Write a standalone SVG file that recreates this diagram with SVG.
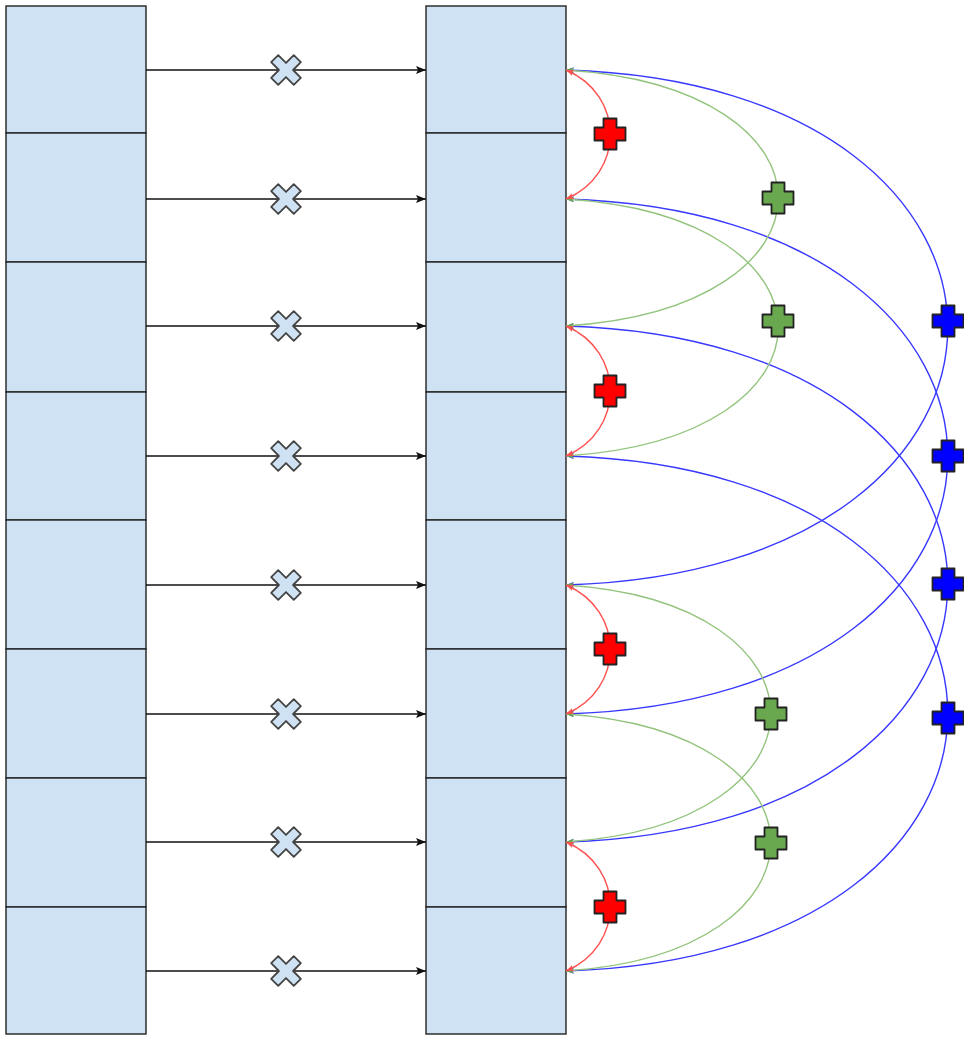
<svg xmlns="http://www.w3.org/2000/svg" xmlns:xlink="http://www.w3.org/1999/xlink" width="964" height="1038" viewBox="0 0 964 1038">
  <style>
    .cell { fill: #cfe2f3; stroke: #222; stroke-width: 1.4; }
    .link { fill: none; stroke: #111; stroke-width: 1.3; }
    .arc { fill: none; stroke-width: 1.4; }
    .arc-red { stroke: #ff5050; }
    .arc-green { stroke: #93c47d; }
    .arc-blue { stroke: #3838ff; }
    .mark { stroke: #222; stroke-width: 1.8; stroke-linejoin: round; }
    .times { fill: #cfe2f3; stroke: #444; }
    .plus-red { fill: #ff0000; }
    .plus-green { fill: #6aa84f; }
    .plus-blue { fill: #0000ff; }
  </style>
  <defs>
    <marker id="arrow" viewBox="0 0 10 8" markerWidth="10" markerHeight="8" refX="10" refY="4" orient="auto" markerUnits="userSpaceOnUse">
      <path d="M0,0 L10,4 L0,8 L2,4 Z" fill="#111"/>
    </marker>
    <marker id="tip-red" viewBox="0 0 8 6" markerWidth="8" markerHeight="6" refX="8" refY="3" orient="auto-start-reverse" markerUnits="userSpaceOnUse">
      <path d="M0,0 L8,3 L0,6 L2,3 Z" fill="#ff5050"/>
    </marker>
    <marker id="tip-green" viewBox="0 0 8 6" markerWidth="8" markerHeight="6" refX="8" refY="3" orient="auto-start-reverse" markerUnits="userSpaceOnUse">
      <path d="M0,0 L8,3 L0,6 L2,3 Z" fill="#6aa84f"/>
    </marker>
    <marker id="tip-blue" viewBox="0 0 8 6" markerWidth="8" markerHeight="6" refX="8" refY="3" orient="auto-start-reverse" markerUnits="userSpaceOnUse">
      <path d="M0,0 L8,3 L0,6 L2,3 Z" fill="#3838ff"/>
    </marker>
    <!-- plus sign centred on the origin -->
    <path id="plus" d="M-6.5,-15.5 H6.5 V-6.5 H15.5 V6.5 H6.5 V15.5 H-6.5 V6.5 H-15.5 V-6.5 H-6.5 Z"/>
    <!-- multiplication sign centred on the origin -->
    <path id="times" d="M-5,-16 H5 V-5 H16 V5 H5 V16 H-5 V5 H-16 V-5 H-5 Z" transform="rotate(45)"/>
  </defs>

  <rect width="964" height="1038" fill="#ffffff"/>

  <!-- input column -->
  <g id="in0"><rect class="cell" x="6" y="6" width="140" height="127"/></g>
  <g id="in1"><rect class="cell" x="6" y="133" width="140" height="129"/></g>
  <g id="in2"><rect class="cell" x="6" y="262" width="140" height="130"/></g>
  <g id="in3"><rect class="cell" x="6" y="392" width="140" height="128"/></g>
  <g id="in4"><rect class="cell" x="6" y="520" width="140" height="129"/></g>
  <g id="in5"><rect class="cell" x="6" y="649" width="140" height="129"/></g>
  <g id="in6"><rect class="cell" x="6" y="778" width="140" height="129"/></g>
  <g id="in7"><rect class="cell" x="6" y="907" width="140" height="127"/></g>

  <!-- output column -->
  <g id="out0"><rect class="cell" x="426" y="6" width="140" height="127"/></g>
  <g id="out1"><rect class="cell" x="426" y="133" width="140" height="129"/></g>
  <g id="out2"><rect class="cell" x="426" y="262" width="140" height="130"/></g>
  <g id="out3"><rect class="cell" x="426" y="392" width="140" height="128"/></g>
  <g id="out4"><rect class="cell" x="426" y="520" width="140" height="129"/></g>
  <g id="out5"><rect class="cell" x="426" y="649" width="140" height="129"/></g>
  <g id="out6"><rect class="cell" x="426" y="778" width="140" height="129"/></g>
  <g id="out7"><rect class="cell" x="426" y="907" width="140" height="127"/></g>

  <g id="connectors">
    <!-- straight links between the columns -->
    <path class="link" d="M146,70 H426" marker-end="url(#arrow)"/>
    <path class="link" d="M146,199 H426" marker-end="url(#arrow)"/>
    <path class="link" d="M146,326 H426" marker-end="url(#arrow)"/>
    <path class="link" d="M146,456 H426" marker-end="url(#arrow)"/>
    <path class="link" d="M146,585 H426" marker-end="url(#arrow)"/>
    <path class="link" d="M146,714 H426" marker-end="url(#arrow)"/>
    <path class="link" d="M146,842 H426" marker-end="url(#arrow)"/>
    <path class="link" d="M146,971 H426" marker-end="url(#arrow)"/>

    <!-- span 4 (blue) -->
    <path class="arc arc-blue" d="M566,70 C1075,85 1075,570 566,585" marker-start="url(#tip-blue)" marker-end="url(#tip-blue)"/>
    <path class="arc arc-blue" d="M566,199 C1075,214 1075,699 566,714" marker-start="url(#tip-blue)" marker-end="url(#tip-blue)"/>
    <path class="arc arc-blue" d="M566,326 C1075,341 1075,827 566,842" marker-start="url(#tip-blue)" marker-end="url(#tip-blue)"/>
    <path class="arc arc-blue" d="M566,456 C1075,471 1075,956 566,971" marker-start="url(#tip-blue)" marker-end="url(#tip-blue)"/>

    <!-- span 2 (green) -->
    <path class="arc arc-green" d="M566,70 C849,88 849,308 566,326" marker-start="url(#tip-green)" marker-end="url(#tip-green)"/>
    <path class="arc arc-green" d="M566,199 C849,217 849,438 566,456" marker-start="url(#tip-green)" marker-end="url(#tip-green)"/>
    <path class="arc arc-green" d="M566,585 C839,603 839,824 566,842" marker-start="url(#tip-green)" marker-end="url(#tip-green)"/>
    <path class="arc arc-green" d="M566,714 C839,732 839,953 566,971" marker-start="url(#tip-green)" marker-end="url(#tip-green)"/>

    <!-- span 1 (red) -->
    <path class="arc arc-red" d="M566,70 C625,95 625,174 566,199" marker-start="url(#tip-red)" marker-end="url(#tip-red)"/>
    <path class="arc arc-red" d="M566,326 C625,351 625,431 566,456" marker-start="url(#tip-red)" marker-end="url(#tip-red)"/>
    <path class="arc arc-red" d="M566,585 C625,610 625,689 566,714" marker-start="url(#tip-red)" marker-end="url(#tip-red)"/>
    <path class="arc arc-red" d="M566,842 C625,867 625,946 566,971" marker-start="url(#tip-red)" marker-end="url(#tip-red)"/>
  </g>

  <!-- multiply marks on the straight links -->
  <g id="mul0" class="mark times"><use xlink:href="#times" x="286" y="70"/></g>
  <g id="mul1" class="mark times"><use xlink:href="#times" x="286" y="199"/></g>
  <g id="mul2" class="mark times"><use xlink:href="#times" x="286" y="326"/></g>
  <g id="mul3" class="mark times"><use xlink:href="#times" x="286" y="456"/></g>
  <g id="mul4" class="mark times"><use xlink:href="#times" x="286" y="585"/></g>
  <g id="mul5" class="mark times"><use xlink:href="#times" x="286" y="714"/></g>
  <g id="mul6" class="mark times"><use xlink:href="#times" x="286" y="842"/></g>
  <g id="mul7" class="mark times"><use xlink:href="#times" x="286" y="971"/></g>

  <!-- add marks on the arcs -->
  <g id="add-red0" class="mark plus-red"><use xlink:href="#plus" x="610" y="134"/></g>
  <g id="add-red1" class="mark plus-red"><use xlink:href="#plus" x="610" y="391"/></g>
  <g id="add-red2" class="mark plus-red"><use xlink:href="#plus" x="610" y="649"/></g>
  <g id="add-red3" class="mark plus-red"><use xlink:href="#plus" x="610" y="907"/></g>

  <g id="add-green0" class="mark plus-green"><use xlink:href="#plus" x="778" y="198"/></g>
  <g id="add-green1" class="mark plus-green"><use xlink:href="#plus" x="778" y="321"/></g>
  <g id="add-green2" class="mark plus-green"><use xlink:href="#plus" x="771" y="714"/></g>
  <g id="add-green3" class="mark plus-green"><use xlink:href="#plus" x="771" y="843"/></g>

  <g id="add-blue0" class="mark plus-blue"><use xlink:href="#plus" x="948" y="321"/></g>
  <g id="add-blue1" class="mark plus-blue"><use xlink:href="#plus" x="948" y="456"/></g>
  <g id="add-blue2" class="mark plus-blue"><use xlink:href="#plus" x="948" y="584"/></g>
  <g id="add-blue3" class="mark plus-blue"><use xlink:href="#plus" x="948" y="718"/></g>
</svg>
